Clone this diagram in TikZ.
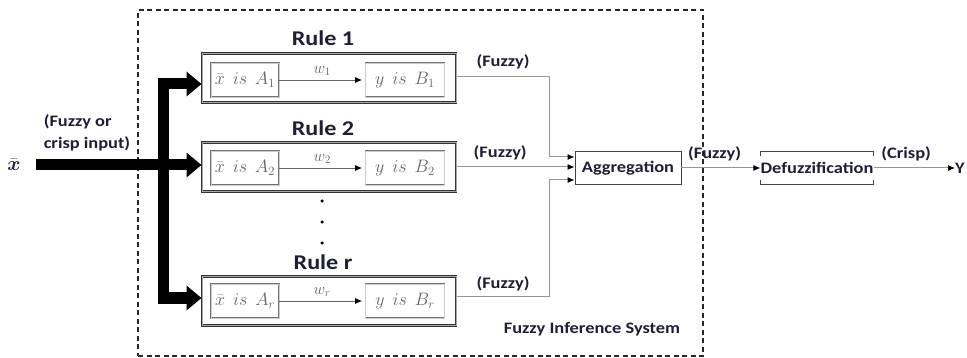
\RequirePackage{fix-cm}
\documentclass[tikz,border=0pt]{standalone}
\usepackage{fontspec}
\setmainfont{Carlito}[FakeStretch=1.15]
\usepackage{amsmath}
\usetikzlibrary{arrows.meta,positioning}
\definecolor{inktext}{RGB}{30,30,52}
\definecolor{linkgray}{RGB}{150,150,150}
\definecolor{mathgray}{RGB}{100,100,100}

\begin{document}
\begin{tikzpicture}[x=1pt,y=-1pt]
    \tikzstyle{every node}+=[inner sep=0pt, text=inktext, font=\bfseries\fontsize{16}{22}\selectfont]
    \tikzstyle{frame}=[draw=black!85, line width=1.6pt, dash pattern=on 5pt off 3.5pt, minimum width=565pt, minimum height=346pt]
    \tikzstyle{rulebox}=[draw=black!80, double=black!35, double distance=0.6pt, line width=1pt, minimum width=254pt, minimum height=49pt]
    \tikzstyle{condbox}=[draw=black!55, double=black!20, double distance=0.5pt, line width=0.7pt, minimum height=34pt, text=mathgray, font=\fontsize{18}{20}\selectfont]
    \tikzstyle{ruletitle}=[font=\bfseries\fontsize{21}{24}\selectfont]
    \tikzstyle{procbox}=[draw=black!75, line width=0.8pt, minimum width=106pt, minimum height=33pt]
    \tikzstyle{wlabel}=[text=mathgray, font=\fontsize{16}{18}\selectfont]
    \tikzstyle{dot}=[circle, fill=black, minimum size=3.5pt]
    \tikzstyle{bus}=[line width=11pt, black]
    \tikzstyle{weight}=[draw=black!60, line width=0.8pt, shorten >=3pt, -{Latex[color=black,length=7pt,width=6pt]}]
    \tikzstyle{link}=[draw=linkgray, line width=1pt, -{Latex[color=black,length=7pt,width=6pt]}]
    \useasboundingbox (0,0) rectangle (967,358);

    % inference system frame
    \node[frame] (fis) at (420.5,183) {};
    \node (fislabel) at (592,329) {Fuzzy Inference System};

    % rule 1
    \node[rulebox] (rule1) at (329,78) {};
    \node[ruletitle] (title1) at (323,38) {Rule 1};
    \node[condbox, minimum width=68pt] (a1) at (245,80) {$\bar{x}\;\, is\;\, A_1$};
    \node[condbox, minimum width=79pt] (b1) at (405,80) {$y\;\, is\;\, B_1$};
    \draw[weight] (a1) -- node[wlabel, above=4pt] {$w_1$} (b1);

    % rule 2
    \node[rulebox] (rule2) at (329,167) {};
    \node[ruletitle] (title2) at (323,128) {Rule 2};
    \node[condbox, minimum width=68pt] (a2) at (245,168) {$\bar{x}\;\, is\;\, A_2$};
    \node[condbox, minimum width=79pt] (b2) at (405,168) {$y\;\, is\;\, B_2$};
    \draw[weight] (a2) -- node[wlabel, above=4pt] {$w_2$} (b2);

    % dots
    \node[dot] (dot1) at (322,201) {};
    \node[dot] (dot2) at (322,222) {};
    \node[dot] (dot3) at (322,243) {};

    % rule r
    \node[rulebox] (ruler) at (329,301) {};
    \node[ruletitle] (titler) at (323,262) {Rule r};
    \node[condbox, minimum width=68pt] (ar) at (245,301) {$\bar{x}\;\, is\;\, A_r$};
    \node[condbox, minimum width=79pt] (br) at (405,301) {$y\;\, is\;\, B_r$};
    \draw[weight] (ar) -- node[wlabel, above=4pt] {$w_r$} (br);

    % input
    \node[font=\fontsize{20}{22}\selectfont] (xin) at (14,165) {$\bar{\boldsymbol{x}}$};
    \node[align=left] (inlabel) at (87,133) {(Fuzzy or\\crisp input)};
    \draw[bus, -{Triangle[width=24pt,length=15pt]}] (xin.east) ++(15,0) -- (xin.east -| rule2.west);
    \draw[bus, {Triangle[width=24pt,length=15pt]}-{Triangle[width=24pt,length=15pt]}]
        ([yshift=-6pt]rule1.west) -| ([xshift=-38pt,yshift=3pt]ruler.west) -- ([yshift=3pt]ruler.west);

    % aggregation
    \node[procbox] (agg) at (628,168) {Aggregation};
    \draw[link] ([yshift=1pt]rule1.east) -- node[above=7pt] {(Fuzzy)} ++(93,0) |- ([yshift=11pt]agg.west);
    \draw[link] (rule2.east) -- node[pos=0.37, above=6pt] {(Fuzzy)} (rule2.east -| agg.west);
    \draw[link] ([yshift=4pt]ruler.east) -- node[above=5pt] {(Fuzzy)} ++(93,0) |- ([yshift=-12pt]agg.west);

    % defuzzification
    \node[minimum height=33pt] (defuz) at (817,168) {Defuzzification};
    \draw[black!75, line width=0.8pt] (defuz.north west) ++(0,5) -- (defuz.north west) -- (defuz.north east) -- ++(0,5);
    \draw[black!75, line width=0.8pt] (defuz.south west) ++(0,-5) -- (defuz.south west) -- (defuz.south east) -- ++(0,-5);
    \node (yout) at (960,168) {Y};
    \draw[link] (agg) -- node[above=6pt, pos=0.42] {(Fuzzy)} (defuz);
    \draw[link] (defuz) -- node[above=6pt, pos=0.4] {(Crisp)} (yout);
\end{tikzpicture}
\end{document}
